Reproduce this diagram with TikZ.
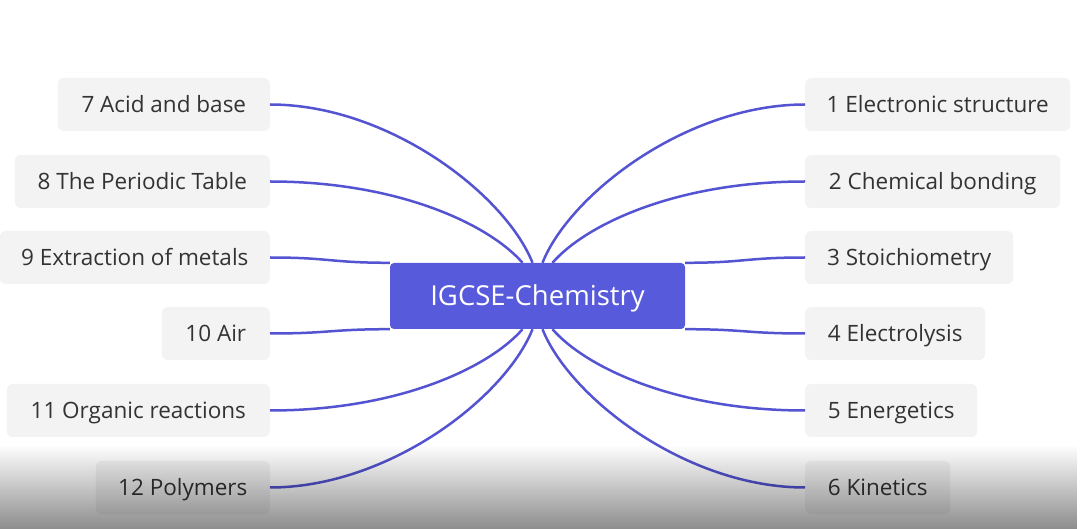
\documentclass[tikz,border=0pt]{standalone}
\usepackage{fontspec}
\setmainfont{Open Sans}
\usetikzlibrary{fadings}
\definecolor{hub}{HTML}{585ADC}
\definecolor{link}{HTML}{5454D2}
\definecolor{leaf}{HTML}{F3F3F4}
\definecolor{ink}{HTML}{333333}
\begin{document}
\begin{tikzpicture}[x=1pt,y=-1pt,
  leafbox/.style={fill=leaf, rounded corners=6pt, minimum height=53pt, inner sep=0pt,
    text=ink, font=\fontsize{22.5}{27}\selectfont, text height=18pt, text depth=1pt},
  hubbox/.style={fill=hub, rounded corners=4pt, minimum width=295pt, minimum height=66pt,
    inner sep=0pt, text=white, font=\fontsize{27.5}{33}\selectfont,
    text height=22pt, text depth=2.5pt},
  conn/.style={draw=link, line width=2.5pt}]
\useasboundingbox (0,0) rectangle (1080,529);
\fill[white] (0,0) rectangle (1080,529);

% hub
\node[hubbox] (hub) at (537.5,296) {IGCSE-Chemistry};

% left leaves
\node[leafbox, minimum width=212pt, anchor=east] (n7)  at (270,104.5) {7 Acid and base};
\node[leafbox, minimum width=255pt, anchor=east] (n8)  at (270,181.5) {8 The Periodic Table};
\node[leafbox, minimum width=270pt, anchor=east] (n9)  at (270,257.5) {9 Extraction of metals};
\node[leafbox, minimum width=108pt, anchor=east] (n10) at (270,333.5) {10 Air};
\node[leafbox, minimum width=263pt, anchor=east] (n11) at (270,410.5) {11 Organic reactions};
\node[leafbox, minimum width=174pt, anchor=east] (n12) at (270,487.5) {12 Polymers};

% right leaves
\node[leafbox, minimum width=265pt, anchor=west] (n1) at (805,104.5) {1 Electronic structure};
\node[leafbox, minimum width=255pt, anchor=west] (n2) at (805,181.5) {2 Chemical bonding};
\node[leafbox, minimum width=208pt, anchor=west] (n3) at (805,257.5) {3 Stoichiometry};
\node[leafbox, minimum width=180pt, anchor=west] (n4) at (805,333.5) {4 Electrolysis};
\node[leafbox, minimum width=172pt, anchor=west] (n5) at (805,410.5) {5 Energetics};
\node[leafbox, minimum width=145pt, anchor=west] (n6) at (805,487.5) {6 Kinetics};

% connectors left
\draw[conn] (n7.east)  .. controls +(119,0) and +(-27,-68) .. ([xshift=-5pt]hub.north);
\draw[conn] (n8.east)  .. controls +(129,0) and +(-33,-38) .. ([xshift=-15pt]hub.north);
\draw[conn] (n9.east)  .. controls +(60,0) and +(-60,0) .. (hub.north west);
\draw[conn] (n10.east) .. controls +(60,0) and +(-60,0) .. (hub.south west);
\draw[conn] (n11.east) .. controls +(129,0) and +(-33,38) .. ([xshift=-15pt]hub.south);
\draw[conn] (n12.east) .. controls +(119,0) and +(-27,68) .. ([xshift=-5pt]hub.south);

% connectors right
\draw[conn] (n1.west) .. controls +(-119,0) and +(27,-68) .. ([xshift=5pt]hub.north);
\draw[conn] (n2.west) .. controls +(-129,0) and +(33,-38) .. ([xshift=15pt]hub.north);
\draw[conn] (n3.west) .. controls +(-60,0) and +(60,0) .. (hub.north east);
\draw[conn] (n4.west) .. controls +(-60,0) and +(60,0) .. (hub.south east);
\draw[conn] (n5.west) .. controls +(-129,0) and +(33,38) .. ([xshift=15pt]hub.south);
\draw[conn] (n6.west) .. controls +(-119,0) and +(27,68) .. ([xshift=5pt]hub.south);

% bottom shadow overlay
\fill[black, fill opacity=0.45, path fading=north] (0,445) rectangle (1080,529);
\end{tikzpicture}
\end{document}
